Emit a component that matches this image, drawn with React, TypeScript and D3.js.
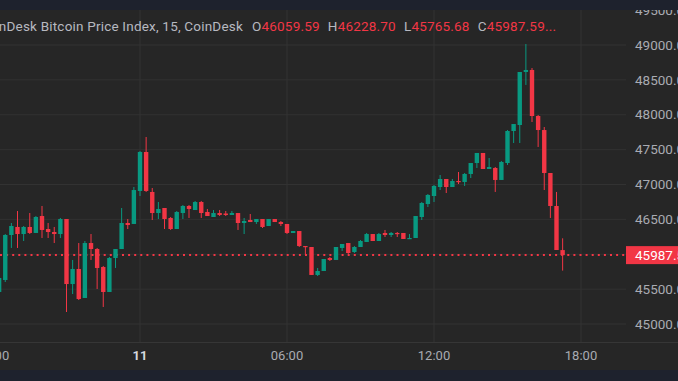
import React from 'react';
import * as d3 from 'd3';

const W = 678;
const H = 381;

const firstCandle = Date.UTC(2024, 0, 10, 18, 15);
const STEP = 15 * 60 * 1000;

const opens = [
  45459, 45631, 46276, 46391, 46290, 46391, 46305, 46548, 46362, 46319,
  46290, 46505, 45573, 45789, 45373, 46161, 46075, 45817, 45459, 45946,
  46075, 46448, 46434, 46907, 47466, 46893, 46591, 46663, 46520, 46362,
  46591, 46692, 46634, 46749, 46606, 46534, 46591, 46584, 46563, 46591,
  46448, 46491, 46462, 46505, 46405, 46505, 46462, 46434, 46305, 46333,
  46118, 46104, 45703, 45760, 45946, 45918, 46090, 46161, 46032, 46104,
  46176, 46290, 46190, 46305, 46276, 46305, 46305, 46219, 46233, 46534,
  46720, 46835, 46964, 47079, 46964, 47050, 47036, 47151, 47308, 47452,
  47222, 47237, 47065, 47308, 47767, 47853, 48613, 48642, 47982, 47781,
  47165, 46692, 46059.59,
];
const highs = [
  45674, 46290, 46448, 46620, 46405, 46591, 46548, 46692, 46448, 46391,
  46520, 46505, 45918, 46161, 46190, 46290, 46090, 45832, 45961, 46075,
  46663, 46505, 46964, 47480, 47681, 46950, 46749, 46663, 46534, 46620,
  46706, 46706, 46764, 46764, 46649, 46634, 46634, 46620, 46620, 46591,
  46520, 46577, 46505, 46505, 46505, 46505, 46477, 46434, 46333, 46333,
  46118, 46104, 45803, 45932, 45961, 46104, 46147, 46161, 46118, 46204,
  46305, 46290, 46305, 46348, 46319, 46319, 46305, 46290, 46548, 46749,
  46864, 46993, 47136, 47079, 47079, 47179, 47165, 47308, 47452, 47452,
  47380, 47251, 47337, 47781, 47867, 48613, 49014, 48670, 47996, 47824,
  47165, 46893, 46228.7,
];
const lows = [
  45444, 45602, 46090, 46090, 46190, 46290, 46305, 46233, 46233, 46161,
  46233, 45172, 45430, 45344, 45373, 45918, 45502, 45244, 45459, 45803,
  46075, 46362, 46434, 46835, 46893, 46491, 46505, 46362, 46348, 46362,
  46505, 46520, 46634, 46520, 46548, 46534, 46548, 46548, 46563, 46348,
  46290, 46462, 46434, 46376, 46405, 46462, 46405, 46290, 46305, 46104,
  45989, 45703, 45688, 45760, 45903, 45918, 46047, 46004, 46018, 46104,
  46176, 46190, 46190, 46247, 46247, 46247, 46219, 46219, 46233, 46491,
  46677, 46749, 46921, 46878, 46964, 47007, 46979, 47093, 47237, 47222,
  47222, 46893, 47065, 47280, 47595, 47595, 48427, 47896, 47538, 46921,
  46520, 46061, 45765.68,
];
const closes = [
  45660, 46276, 46405, 46290, 46391, 46305, 46534, 46348, 46319, 46290,
  46505, 45573, 45789, 45358, 46161, 46075, 45803, 45459, 45946, 46075,
  46448, 46419, 46921, 47466, 46907, 46591, 46649, 46505, 46362, 46606,
  46692, 46649, 46749, 46591, 46548, 46591, 46563, 46563, 46591, 46448,
  46477, 46462, 46505, 46391, 46505, 46462, 46434, 46305, 46333, 46118,
  46104, 45703, 45760, 45932, 45918, 46104, 46147, 46018, 46104, 46190,
  46290, 46190, 46290, 46276, 46305, 46290, 46219, 46233, 46548, 46735,
  46850, 46979, 47079, 46964, 47050, 47036, 47151, 47308, 47452, 47222,
  47251, 47065, 47323, 47767, 47867, 48613, 48642, 47982, 47781, 47165,
  46692, 46061, 45987.59,
];

const timeTicks = [
  Date.UTC(2024, 0, 10, 18),
  Date.UTC(2024, 0, 11, 0),
  Date.UTC(2024, 0, 11, 6),
  Date.UTC(2024, 0, 11, 12),
  Date.UTC(2024, 0, 11, 18),
];
const timeTickLabels = ['18:00', '11', '06:00', '12:00', '18:00'];
const priceTicks = [45000, 45500, 46000, 46500, 47000, 47500, 48000, 48500, 49000, 49500];
const gridPrices = [45000, 45500, 46000, 46500, 47000, 47500, 48000, 48500, 49000];

const title = 'CoinDesk Bitcoin Price Index, 15, CoinDesk';
const legendKeys = ['O', 'H', 'L', 'C'];
const legendValues = ['46059.59', '46228.70', '45765.68', '45987.59...'];
const lastPrice = 45987.59;

const UP = '#089981';
const DOWN = '#f23645';
const BG = '#262626';
const BAND = '#1e222d';
const GRID = '#323232';
const FONT = 'Roboto, "Liberation Sans", sans-serif';

export default function App() {
  const plotRight = 626;
  const plotTop = 10;
  const plotBottom = 342;
  const x = d3
    .scaleUtc()
    .domain([Date.UTC(2024, 0, 10, 18), Date.UTC(2024, 0, 11, 18)])
    .range([-7, 581]);
  const y = d3.scaleLinear().domain([45000, 49000]).range([324, 45]);
  const bodyW = 4.4;

  const candles = opens.map((o, i) => ({
    t: firstCandle + i * STEP,
    o,
    h: highs[i],
    l: lows[i],
    c: closes[i],
  }));

  return (
    <svg
      width={W}
      height={H}
      style={{ position: 'fixed', left: 0, top: 0, display: 'block' }}
      fontFamily={FONT}
    >
      <rect x={0} y={0} width={W} height={H} fill={BG} />
      {gridPrices.map((p) => (
        <line key={'gy' + p} x1={0} x2={plotRight} y1={y(p)} y2={y(p)} stroke={GRID} strokeWidth={1} />
      ))}
      {timeTicks.slice(1).map((t) => (
        <line key={'gx' + t} x1={x(t)} x2={x(t)} y1={plotTop} y2={plotBottom} stroke={GRID} strokeWidth={1} />
      ))}
      <line
        x1={0}
        x2={plotRight}
        y1={y(lastPrice)}
        y2={y(lastPrice)}
        stroke={DOWN}
        strokeWidth={2}
        strokeDasharray="2 4.1"
      />
      {candles.map((d, i) => {
        const cx = x(d.t);
        const color = d.c >= d.o ? UP : DOWN;
        const top = y(Math.max(d.o, d.c));
        const bot = y(Math.min(d.o, d.c));
        return (
          <g key={i}>
            <line x1={cx} x2={cx} y1={y(d.h)} y2={y(d.l)} stroke={color} strokeWidth={1} />
            <rect x={cx - bodyW / 2} y={top} width={bodyW} height={Math.max(1.2, bot - top)} fill={color} />
          </g>
        );
      })}
      <text x={243} y={31} textAnchor="end" fontSize={13.5} letterSpacing={0.2} fill="#b7b9c0">
        {title}
      </text>
      <text x={252} y={31} fontSize={13.5} letterSpacing={0.2}>
        {legendKeys.map((k, i) => (
          <React.Fragment key={k}>
            <tspan fill="#b7b9c0" dx={i === 0 ? 0 : 8}>
              {k}
            </tspan>
            <tspan fill={DOWN}>{legendValues[i]}</tspan>
          </React.Fragment>
        ))}
      </text>
      <rect x={plotRight} y={plotTop} width={W - plotRight} height={plotBottom - plotTop} fill={BG} />
      {priceTicks.map((p) => (
        <text key={'pt' + p} x={635} y={y(p) + 4.7} fontSize={13.5} fill="#a9abb2">
          {p.toFixed(2)}
        </text>
      ))}
      <rect x={plotRight} y={y(lastPrice) - 9} width={W - plotRight} height={18} fill={DOWN} />
      <text x={635} y={y(lastPrice) + 4.7} fontSize={13.5} fill="#ffffff">
        {lastPrice.toFixed(2)}
      </text>
      <line x1={0} x2={W} y1={plotBottom + 0.5} y2={plotBottom + 0.5} stroke="#363636" />
      {timeTicks.map((t, i) => (
        <text
          key={'tt' + t}
          x={x(t)}
          y={360}
          textAnchor="middle"
          fontSize={13}
          fontWeight={timeTickLabels[i] === '11' ? 'bold' : 'normal'}
          fill={timeTickLabels[i] === '11' ? '#d6d8de' : '#a9abb2'}
        >
          {timeTickLabels[i]}
        </text>
      ))}
      <rect x={0} y={0} width={W} height={plotTop} fill={BAND} />
      <rect x={0} y={370} width={W} height={H - 370} fill={BAND} />
    </svg>
  );
}
